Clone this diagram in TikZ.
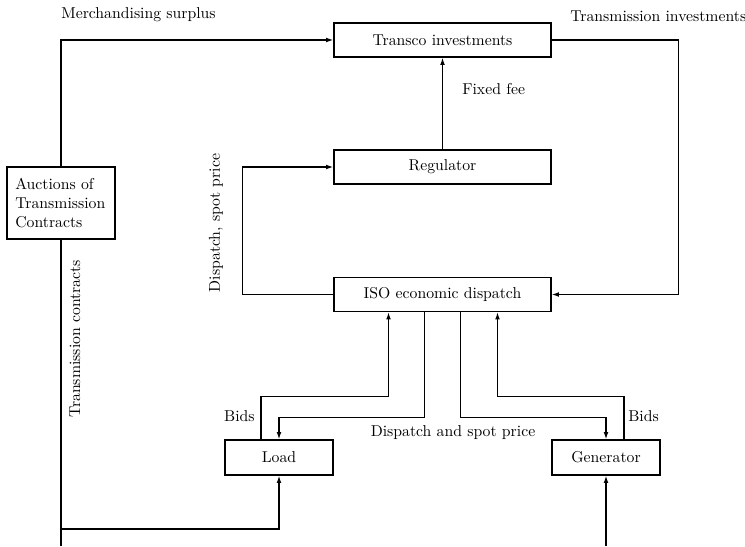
\documentclass[tikz,border=0pt]{standalone}
\usepackage{tikz}
\usetikzlibrary{arrows.meta,calc}
\tikzset{
  caja/.style={draw,line width=0.8pt,fill=white,minimum width=137.8pt,minimum height=21.6pt,inner sep=2pt},
  cajita/.style={caja,minimum width=68.6pt,minimum height=22.2pt},
  linea/.style={line width=0.8pt,-{Latex[length=4.6pt,width=3pt]}},
  etq/.style={inner sep=0pt}
}

\begin{document}
\begin{tikzpicture}[x=0.635pt,y=-0.635pt]
\useasboundingbox (0,0) rectangle (745,546);
\node[caja] (transco) at (442.5,40) {Transco investments};
\node[caja] (reg) at (442.5,167) {Regulator};
\node[caja] (iso) at (442.5,294.5) {ISO economic dispatch};
\node[caja,minimum width=68.6pt,minimum height=45.7pt,text width=58pt,align=left,inner sep=5.3pt] (sub) at (61,203)
 {Auctions of\\ Transmission\\ Contracts};
\node[cajita] (load) at (279,457.5) {Load};
\node[cajita] (gen) at (606,457.5) {Generator};
\coordinate (bl) at (61,546); \coordinate (lj) at (61,529); \coordinate (br) at (606,546);
% arriba
\draw[linea] (sub.north) |- (transco.west);
\draw[line width=0.8pt] (bl) -- (sub.south);
\draw[linea] (reg) -- (transco);
\draw[linea] (transco.east) -- ++(127,0) |- (iso.east);
\draw[linea] (iso.west) -- ++(-91,0) |- (reg.west);
% abajo
\draw[linea] (lj) -| (load.south);
\draw[linea] (br) -- (gen.south);
\draw[linea] ($(load.north)+(-18,0)$) -- ++(0,-43) -| ($(iso.south)+(-54,0)$);
\draw[linea] ($(iso.south)+(-18,0)$) -- ++(0,105) -| (load.north);
\draw[linea] ($(iso.south)+(18,0)$) -- ++(0,105) -| (gen.north);
\draw[linea] ($(gen.north)+(18,0)$) -- ++(0,-43) -| ($(iso.south)+(55,0)$);
% textos
\node[etq,anchor=base west] (ms) at (61,18.5) {Merchandising surplus};
\node[etq,anchor=base west] (ti) at (570,21.5) {Transmission investments};
\node[etq,anchor=base west] (ff) at (462,95) {Fixed fee};
\node[etq,rotate=90] (tc) at (75,339) {Transmission contracts};
\node[etq,rotate=90] (dsp) at (216,223) {Dispatch, spot price};
\node[etq,anchor=base east] (bl1) at (255,421) {Bids};
\node[etq,anchor=base west] (bl2) at (628,421) {Bids};
\node[etq,anchor=base] (dsp2) at (453,436) {Dispatch and spot price};
\end{tikzpicture}
\end{document}
